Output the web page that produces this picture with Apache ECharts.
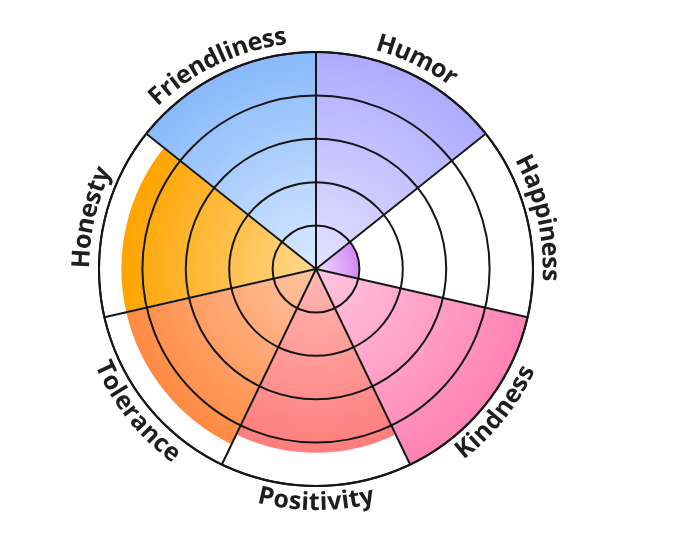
<!DOCTYPE html>
<html>
<head>
<meta charset="utf-8">
<script src="https://cdn.jsdelivr.net/npm/echarts@6/dist/echarts.min.js"></script>
<style>
  html, body { margin: 0; padding: 0; background: #fff; }
  #chart { width: 680px; height: 536px; }
</style>
</head>
<body>
<div id="chart"></div>
<script>
// categories clockwise from 12 o'clock
var categories = ["Humor", "Happiness", "Kindness", "Positivity", "Tolerance", "Honesty", "Friendliness"];
var scores = [5, 1, 5, 4.25, 4.5, 4.5, 5];
var innerColors = ["#e4e2ff", "#f2dcff", "#ffc6e0", "#ffb8b2", "#ffc4a4", "#ffd88c", "#d9e9ff"];
var outerColors = ["#aeabff", "#d488f7", "#ff82b4", "#ff7d7d", "#ff8a42", "#ffa400", "#88b9fa"];
var radiusMax = 5;

var CX = 316, CY = 269, R = 217;
var lineColor = "#161616";
var labelFont = { size: 25, weight: "bold", family: "'Open Sans', 'Noto Sans', sans-serif" };

var chart = echarts.init(document.getElementById("chart"));

var measureCtx = document.createElement("canvas").getContext("2d");
measureCtx.font = labelFont.weight + " " + labelFont.size + "px " + labelFont.family;

// text bent along the outer circle
function renderLabel(params, api) {
    var cs = params.coordSys;
    var p = api.coord([api.value(0), api.value(1)]);
    var mid = Math.atan2(cs.cy - p[1], p[0] - cs.cx);
    var down = Math.sin(mid) < 0;
    var rho = cs.r + 17;
    var text = categories[params.dataIndex];
    var widths = text.split("").map(function (ch) { return measureCtx.measureText(ch).width; });
    var total = widths.reduce(function (a, b) { return a + b; }, 0);
    var s = -total / 2;
    var children = [];
    text.split("").forEach(function (ch, i) {
        var sc = s + widths[i] / 2;
        s += widths[i];
        var th = down ? mid + sc / rho : mid - sc / rho;
        children.push({
            type: "text",
            x: cs.cx + rho * Math.cos(th),
            y: cs.cy - rho * Math.sin(th),
            rotation: down ? th + Math.PI / 2 : th - Math.PI / 2,
            style: {
                text: ch,
                fill: "#1e1e1e",
                fontSize: labelFont.size,
                fontWeight: labelFont.weight,
                fontFamily: labelFont.family,
                align: "center",
                verticalAlign: "middle"
            }
        });
    });
    return { type: "group", children: children };
}

var option = {
    backgroundColor: "#fff",
    polar: {
        center: [CX, CY],
        radius: R
    },
    angleAxis: {
        type: "category",
        data: categories,
        startAngle: 90,
        clockwise: true,
        boundaryGap: true,
        z: 5,
        axisLine: { show: true, lineStyle: { color: lineColor, width: 2 } },
        axisTick: { show: false },
        axisLabel: { show: false },
        splitLine: { show: true, lineStyle: { color: lineColor, width: 2 } }
    },
    radiusAxis: {
        min: 0,
        max: radiusMax,
        interval: 1,
        z: 5,
        axisLine: { show: false },
        axisTick: { show: false },
        axisLabel: { show: false },
        splitLine: { show: true, lineStyle: { color: lineColor, width: 2 } }
    },
    series: [
        {
            type: "bar",
            coordinateSystem: "polar",
            barCategoryGap: "0%",
            z: 2,
            data: scores.map(function (v, i) {
                return {
                    value: v,
                    itemStyle: {
                        borderColor: "#fff",
                        borderWidth: 1.5,
                        color: new echarts.graphic.RadialGradient(CX, CY, v / radiusMax * R, [
                            { offset: 0, color: innerColors[i] },
                            { offset: 1, color: outerColors[i] }
                        ], true)
                    }
                };
            })
        },
        {
            type: "custom",
            coordinateSystem: "polar",
            silent: true,
            z: 10,
            encode: { radius: 0, angle: 1 },
            data: categories.map(function (c, i) { return [radiusMax, i]; }),
            renderItem: renderLabel
        }
    ]
};

chart.setOption(option);
</script>
</body>
</html>
